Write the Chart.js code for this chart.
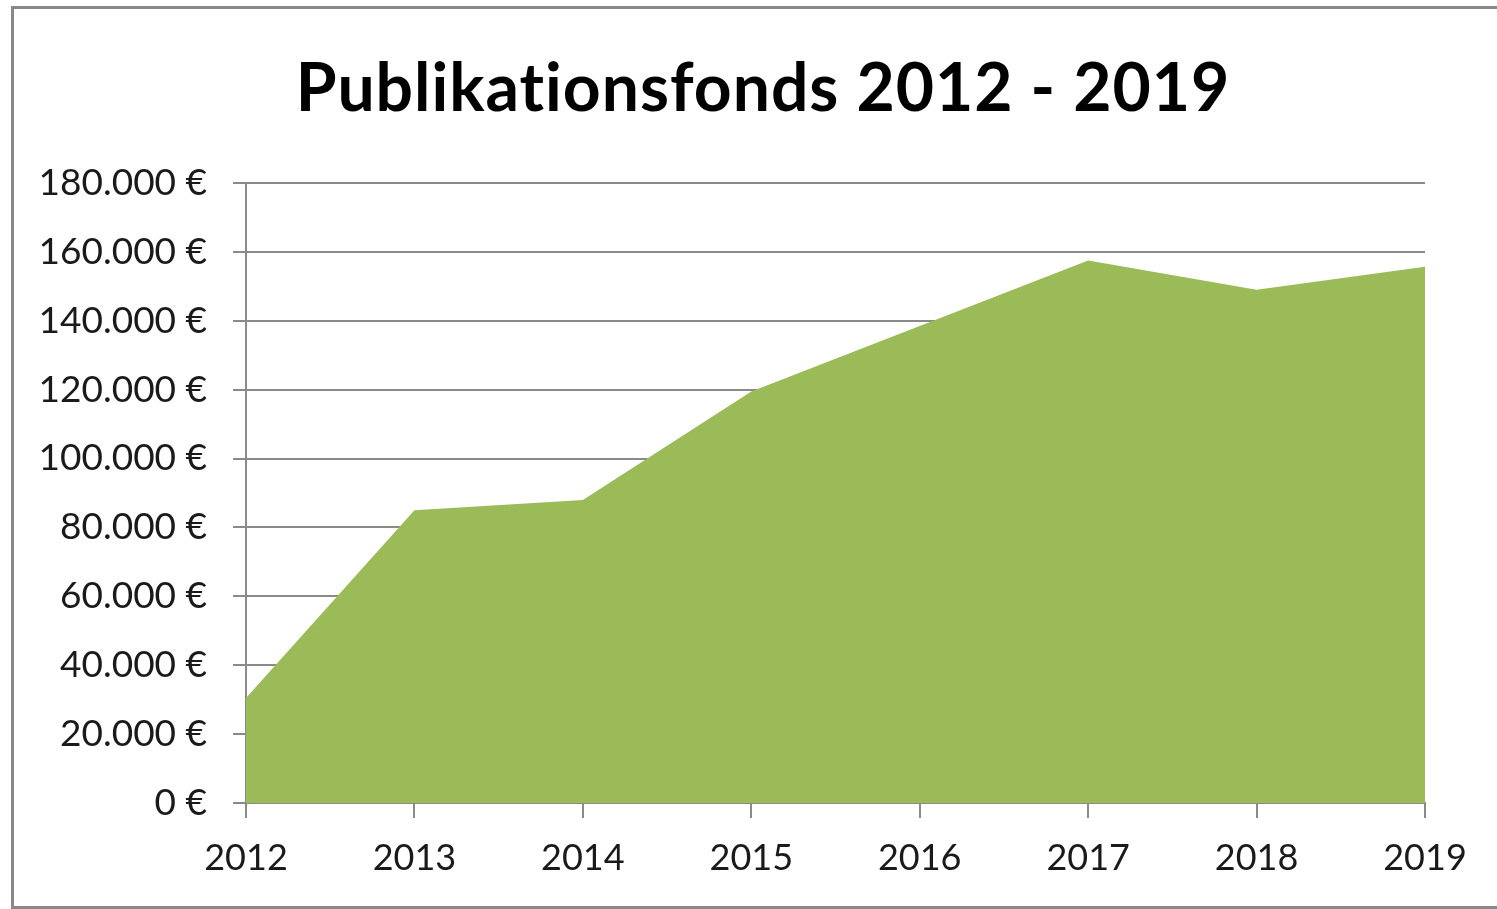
<!DOCTYPE html>
<html>
<head>
<meta charset="utf-8">
<script src="https://cdn.jsdelivr.net/npm/chart.js@4"></script>
<style>
  html, body { margin: 0; padding: 0; background: #fff; overflow: hidden; }
  #wrap { position: relative; width: 1497px; height: 909px; }
  #fondsChart { position: absolute; left: 0; top: 0; }
  #frame {
    position: absolute; left: 11px; top: 6px; width: 1500px; height: 903px;
    box-sizing: border-box; border: 3px solid #898989; border-right: none;
    pointer-events: none;
  }
  /* the original frame runs past the right edge, so the title is centred on it, not on the canvas */
  #title {
    position: absolute; left: 0; top: 53px; width: 1526px;
    text-align: center; font: bold 66px/66px Lato, sans-serif; color: #000;
    letter-spacing: 1px; white-space: nowrap;
  }
</style>
</head>
<body>
<div id="wrap">
  <canvas id="fondsChart" width="1497" height="909"></canvas>
  <div id="title">Publikationsfonds 2012 - 2019</div>
  <div id="frame"></div>
</div>
<script>
// Publikationsfonds per year (EUR)
const years = ['2012', '2013', '2014', '2015', '2016', '2017', '2018', '2019'];
const fonds = [30500, 85000, 88000, 119500, 138500, 157500, 149000, 155700];
const yTicks = [0, 20000, 40000, 60000, 80000, 100000, 120000, 140000, 160000, 180000];

function euro(v) {
  return String(v).replace(/\B(?=(\d{3})+(?!\d))/g, '.') + ' €';
}

document.addEventListener("DOMContentLoaded", function () {
  const ctx = document.getElementById('fondsChart').getContext('2d');
  const gridColor = '#8a8a8a';

  new Chart(ctx, {
    type: 'line',
    data: {
      labels: years,
      datasets: [{
        label: 'Publikationsfonds',
        data: fonds,
        backgroundColor: '#9BBB59',
        borderColor: '#9BBB59',
        borderWidth: 0,
        pointRadius: 0,
        tension: 0,
        fill: 'origin'
      }]
    },
    options: {
      responsive: false,
      animation: false,
      layout: { padding: { left: 0, right: 72, top: 183, bottom: 0 } },
      scales: {
        x: {
          offset: false,
          afterFit: function (scale) { scale.height = 106; },
          border: { display: true, color: gridColor, width: 2 },
          grid: {
            drawOnChartArea: false,
            drawTicks: true,
            tickLength: 15,
            color: gridColor,
            lineWidth: 2
          },
          ticks: {
            color: '#1a1a1a',
            padding: 19,
            maxRotation: 0,
            font: { family: 'Lato', size: 36 }
          }
        },
        y: {
          min: 0,
          max: 180000,
          afterFit: function (scale) { scale.width = 246; },
          afterBuildTicks: function (scale) {
            scale.ticks = yTicks.map(function (v) { return { value: v }; });
          },
          border: { display: true, color: gridColor, width: 2 },
          grid: {
            color: gridColor,
            lineWidth: 2,
            tickLength: 13
          },
          ticks: {
            color: '#1a1a1a',
            padding: 26,
            font: { family: 'Lato', size: 37 },
            callback: function (value) { return euro(value); }
          }
        }
      },
      plugins: {
        legend: { display: false },
        tooltip: { enabled: false },
        title: { display: false }
      }
    }
  });
});
</script>
</body>
</html>
